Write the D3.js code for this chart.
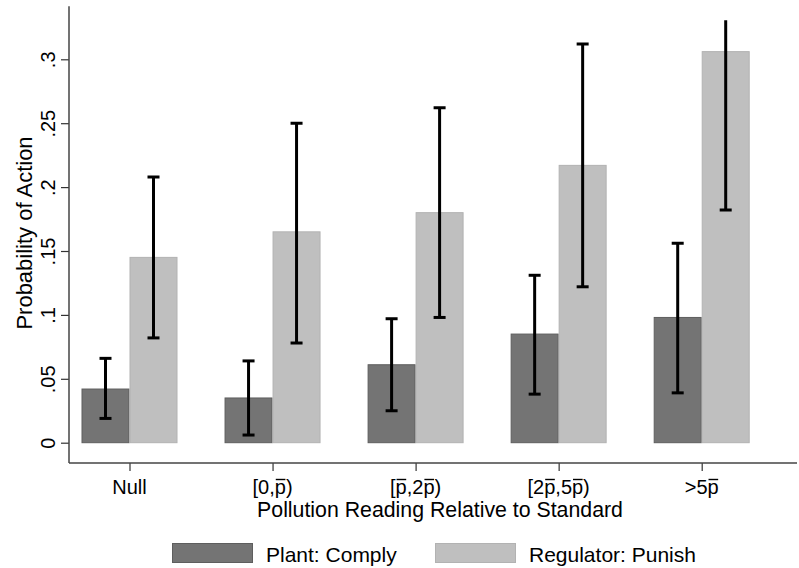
<!DOCTYPE html>
<html>
<head>
<meta charset="utf-8">
<script src="https://cdnjs.cloudflare.com/ajax/libs/d3/7.8.5/d3.min.js"></script>
<style>
  body { margin: 0; background: #fff; }
  svg text { font-family: "Liberation Sans", Arial, Helvetica, sans-serif; fill: #000; }
</style>
</head>
<body>
<div id="container"></div>
<script>
// categories (P = p with an overline)
let categories = ["Null", "[0,P)", "[P,2P)", "[2P,5P)", ">5P"];

// Plant: Comply
let complyMean  = [0.042, 0.035, 0.061, 0.085, 0.098];
let complyLow   = [0.019, 0.006, 0.025, 0.038, 0.039];
let complyHigh  = [0.066, 0.064, 0.097, 0.131, 0.156];

// Regulator: Punish
let punishMean  = [0.145, 0.165, 0.180, 0.217, 0.306];
let punishLow   = [0.082, 0.078, 0.098, 0.122, 0.182];
let punishHigh  = [0.208, 0.250, 0.262, 0.312, 0.360];

let yTicks = [0, 0.05, 0.1, 0.15, 0.2, 0.25, 0.3];
let yTickLabels = ["0", ".05", ".1", ".15", ".2", ".25", ".3"];

let seriesNames = ["Plant: Comply", "Regulator: Punish"];
let seriesFill = ["#747474", "#bfbfbf"];
let seriesStroke = ["#5e5e5e", "#b2b2b2"];

let w = 799;
let h = 568;
let left = 69;
let right = 797;
let bottom = 463;
let plotTopValue = 0.3305;   // plot region top, bars/whiskers are clipped here
let axisTopValue = 0.3415;   // y axis line runs a bit higher

let viz = d3.select("#container")
  .append("svg")
    .attr("width", w)
    .attr("height", h);

let yScale = d3.scaleLinear().domain([0, 0.3]).range([442.7, 59.3]);
let xScale = d3.scalePoint().domain(categories).range([129.5, 701.7]);
let barW = 48;

// clip for the plot region
viz.append("clipPath").attr("id", "plotclip")
  .append("rect")
    .attr("x", left)
    .attr("y", yScale(plotTopValue))
    .attr("width", right - left)
    .attr("height", bottom - yScale(plotTopValue));

let series = [
  { mean: complyMean, low: complyLow, high: complyHigh, offset: -barW },
  { mean: punishMean, low: punishLow, high: punishHigh, offset: 0 }
];

let graphGroup = viz.append("g").attr("clip-path", "url(#plotclip)");

function rowsFor(s){
  return categories.map(function(c, i){
    return { cat: c, mean: s.mean[i], low: s.low[i], high: s.high[i] };
  });
}

series.forEach(function(s, si){
  graphGroup.selectAll(".bar" + si).data(rowsFor(s)).enter()
    .append("rect")
      .attr("class", "bar" + si)
      .attr("x", function(d){ return xScale(d.cat) + s.offset + 0.5; })
      .attr("y", function(d){ return yScale(d.mean); })
      .attr("width", barW - 1)
      .attr("height", function(d){ return yScale(0) - yScale(d.mean); })
      .attr("fill", seriesFill[si])
      .attr("stroke", seriesStroke[si])
      .attr("stroke-width", 1);
});

series.forEach(function(s, si){
  let cx = function(d){ return xScale(d.cat) + s.offset + barW / 2; };

  let eg = graphGroup.selectAll(".err" + si).data(rowsFor(s)).enter()
    .append("g").attr("class", "err" + si);

  eg.append("line")
    .attr("x1", cx).attr("x2", cx)
    .attr("y1", function(d){ return yScale(d.low); })
    .attr("y2", function(d){ return yScale(d.high); })
    .attr("stroke", "#000").attr("stroke-width", 3);

  ["low", "high"].forEach(function(k){
    eg.append("line")
      .attr("x1", function(d){ return cx(d) - 6; })
      .attr("x2", function(d){ return cx(d) + 6; })
      .attr("y1", function(d){ return yScale(d[k]); })
      .attr("y2", function(d){ return yScale(d[k]); })
      .attr("stroke", "#000").attr("stroke-width", 3);
  });
});

// y axis
let yAxis = d3.axisLeft(yScale).tickValues(yTicks)
  .tickSize(8).tickPadding(6)
  .tickFormat(function(d, i){ return yTickLabels[i]; });
let yAxisGroup = viz.append("g")
  .attr("transform", "translate(" + left + ",0)")
  .call(yAxis);
yAxisGroup.select(".domain").remove();
yAxisGroup.append("line")
  .attr("x1", 0).attr("x2", 0)
  .attr("y1", yScale(axisTopValue)).attr("y2", bottom)
  .attr("stroke", "#444").attr("stroke-width", 1.5);
yAxisGroup.selectAll(".tick line").attr("stroke", "#333").attr("stroke-width", 1.2);
yAxisGroup.selectAll(".tick text")
  .attr("font-size", 20)
  .attr("x", null).attr("dy", null)
  .attr("transform", "translate(-14,0) rotate(-90)")
  .attr("text-anchor", "middle")
  .attr("y", 0);

// x axis
let xAxis = d3.axisBottom(xScale).tickSize(8).tickPadding(6).tickFormat("");
let xAxisGroup = viz.append("g")
  .attr("transform", "translate(0," + bottom + ")")
  .call(xAxis);
xAxisGroup.select(".domain").remove();
xAxisGroup.append("line")
  .attr("x1", left).attr("x2", right)
  .attr("y1", 0).attr("y2", 0)
  .attr("stroke", "#444").attr("stroke-width", 1.5);
xAxisGroup.selectAll(".tick line").attr("stroke", "#333").attr("stroke-width", 1.2);

// tick labels with overlined p (bar drawn over each "P" glyph)
let tickFont = 20;
let tickBase = 493.5;
categories.forEach(function(c){
  let t = viz.append("text")
    .attr("x", xScale(c))
    .attr("y", tickBase)
    .attr("text-anchor", "middle")
    .attr("font-size", tickFont)
    .text(c.replace(/P/g, "p"));
  for (let i = 0; i < c.length; i++) {
    if (c[i] !== "P") continue;
    let ext = t.node().getExtentOfChar(i);
    viz.append("line")
      .attr("x1", ext.x + 1).attr("x2", ext.x + ext.width - 0.5)
      .attr("y1", tickBase - 14).attr("y2", tickBase - 14)
      .attr("stroke", "#000").attr("stroke-width", 1.4);
  }
});

// axis titles
viz.append("text")
  .attr("x", 440).attr("y", 517)
  .attr("text-anchor", "middle")
  .attr("font-size", 21.3)
  .text("Pollution Reading Relative to Standard");

viz.append("text")
  .attr("transform", "translate(31.5,233) rotate(-90)")
  .attr("text-anchor", "middle")
  .attr("font-size", 22)
  .text("Probability of Action");

// legend
let legendX = [172, 435];
seriesNames.forEach(function(name, i){
  viz.append("rect")
    .attr("x", legendX[i] + 0.5).attr("y", 543.5)
    .attr("width", 80).attr("height", 19)
    .attr("fill", seriesFill[i])
    .attr("stroke", seriesStroke[i]);
  viz.append("text")
    .attr("x", legendX[i] + 94).attr("y", 562)
    .attr("font-size", 21)
    .text(name);
});
</script>
</body>
</html>
